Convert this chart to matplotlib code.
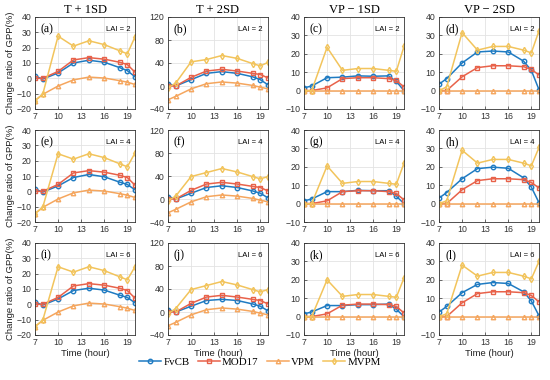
import matplotlib
matplotlib.use("Agg")
import matplotlib.pyplot as plt

hours = [7, 8, 10, 12, 14, 16, 18, 19, 20]
models = ["FvCB", "MOD17", "VPM", "MVPM"]
col_titles = ["T + 1SD", "T + 2SD", "VP \u2212 1SD", "VP \u2212 2SD"]
lai_values = [2, 4, 6]
panel_letters = ["a", "b", "c", "d", "e", "f", "g", "h", "i", "j", "k", "l"]

# ---- data: [row LAI][col scenario] -> series per model
# T + 1SD
t1_fvcb = [[1.5, -0.5, 3.5, 10, 11.8, 10.5, 7, 5, 1],
           [1.5, -0.5, 3.5, 9, 11, 9.5, 6, 4.5, 1],
           [1.5, -0.5, 3.5, 9, 10.5, 9.3, 6, 4.5, 1]]
t1_mod17 = [[0, 0, 4.5, 12, 13.5, 12.5, 10.5, 9, 4],
            [0, 0, 4.5, 12, 13.5, 12.5, 10.5, 9, 4],
            [0, 0, 4.5, 12, 13.5, 12.5, 10.5, 9, 4]]
t1_vpm = [[-14.5, -10.5, -5, -1, 0.8, 0.2, -1.5, -2.5, -4],
          [-14.5, -10.5, -5, -1, 0.8, 0.2, -1.5, -2.5, -4],
          [-14.5, -10.5, -5, -1, 0.8, 0.2, -1.5, -2.5, -4]]
t1_mvpm = [[-14.5, -10.5, 27.5, 21, 24.5, 22, 18, 16, 27],
           [-14.5, -10.5, 24.5, 21, 24.5, 22, 18, 16, 25],
           [-14.5, -10.5, 24.5, 21, 24.5, 22, 18, 16, 24.5]]
# T + 2SD
t2_fvcb = [[4, 0, 11, 22, 25, 22, 16, 11, 2],
           [4, 0, 10, 20, 23, 20, 14, 10, 2],
           [4, 0, 10, 20, 22, 20, 14, 10, 2]]
t2_mod17 = [[0, 0, 15, 26, 29, 26, 22, 20, 14],
            [0, 0, 15, 26, 29, 26, 22, 20, 14],
            [0, 0, 15, 26, 29, 26, 22, 20, 14]]
t2_vpm = [[-24, -18, -5, 4, 7, 5, 1, -2, -5],
          [-24, -18, -5, 4, 7, 5, 1, -2, -5],
          [-24, -18, -5, 4, 7, 5, 1, -2, -5]]
t2_mvpm = [[-3, 5, 42, 46, 53, 48, 39, 35, 41],
           [-3, 5, 39, 46, 53, 47, 39, 35, 39],
           [-3, 6, 39, 46, 53, 47, 39, 35, 39]]
# VP - 1SD
v1_fvcb = [[1.5, 2.5, 7, 7.3, 8, 7.8, 8, 5, 0],
           [1.5, 2.5, 6.5, 6.5, 7.2, 7, 7, 4, 0],
           [1.5, 2.5, 6, 6, 6.5, 6.5, 6.8, 4, 0]]
v1_mod17 = [[0, 0, 1.5, 6.5, 7, 7, 6.5, 5.5, 2],
            [0, 0, 1.5, 6.5, 7, 7, 6.5, 5.5, 2],
            [0, 0, 1.5, 6.2, 6.8, 6.8, 6.5, 5.5, 2]]
v1_vpm = [[0, 0, 0, 0, 0, 0, 0, 0, 0],
          [0, 0, 0, 0, 0, 0, 0, 0, 0],
          [0, 0, 0, 0, 0, 0, 0, 0, 0]]
v1_mvpm = [[0, 0, 23.5, 11, 12, 12, 11, 10.5, 24],
           [0, 0, 20.5, 11, 12, 12, 11, 10.5, 22],
           [0, 0, 20, 11, 12, 12, 11, 10.5, 21]]
# VP - 2SD
v2_fvcb = [[3.5, 6.5, 15, 21, 21.5, 21, 16, 11, 0.5],
           [3, 6, 13.5, 19, 19.8, 19.2, 14, 9, 0.5],
           [2.5, 5.5, 13, 17.5, 18.5, 18, 13.5, 8.5, 0.5]]
v2_mod17 = [[0, 0, 7.5, 12.5, 13.5, 13.5, 13, 11.5, 8.5],
            [0, 0, 7.5, 12.5, 13.5, 13.5, 13, 11.5, 8.5],
            [0, 0, 7.5, 12.5, 13.5, 13.5, 13, 11.5, 8]]
v2_vpm = [[0, 0, 0, 0, 0, 0, 0, 0, 0],
          [0, 0, 0, 0, 0, 0, 0, 0, 0],
          [0, 0, 0, 0, 0, 0, 0, 0, 0]]
v2_mvpm = [[0, 2, 31.5, 22, 24, 24, 22, 20.5, 32.5],
           [0, 1.5, 29, 22, 24, 24, 22, 20.5, 30.5],
           [0, 1.5, 28, 22, 24, 24, 22, 20.5, 30]]

scenario_data = [
    [t1_fvcb, t1_mod17, t1_vpm, t1_mvpm],
    [t2_fvcb, t2_mod17, t2_vpm, t2_mvpm],
    [v1_fvcb, v1_mod17, v1_vpm, v1_mvpm],
    [v2_fvcb, v2_mod17, v2_vpm, v2_mvpm],
]
y_limits = [(-20, 40), (-40, 120), (-10, 40), (-10, 40)]
y_ticks = [[-20, -10, 0, 10, 20, 30, 40], [-40, 0, 40, 80, 120],
           [-10, 0, 10, 20, 30, 40], [-10, 0, 10, 20, 30, 40]]
x_ticks = [7, 10, 13, 16, 19]

colors = ["#1f7bc2", "#e8624a", "#f5a65e", "#f2c45c"]
markers = ["o", "s", "^", "d"]

W, H = 550, 380
fig = plt.figure(figsize=(5.5, 3.8), dpi=100)
sans = "Liberation Sans"
serif = "Liberation Serif"

col_left = [35, 168, 304, 439]
ax_w = 100
row_top = [17, 130, 243]
ax_h = 92

handles = None
for r in range(3):
    for c in range(4):
        ax = fig.add_axes([col_left[c] / W, 1 - (row_top[r] + ax_h) / H, ax_w / W, ax_h / H])
        hs = []
        for m in range(4):
            h, = ax.plot(hours, scenario_data[c][m][r], color=colors[m], marker=markers[m],
                         markersize=3.2, markerfacecolor="none", markeredgewidth=1.0,
                         linewidth=1.1, label=models[m])
            hs.append(h)
        handles = hs
        ax.set_xlim(7, 20)
        ax.set_ylim(*y_limits[c])
        ax.set_xticks(x_ticks)
        ax.set_yticks(y_ticks[c])
        ax.grid(True, color="#e3e3e3", linewidth=0.6)
        ax.set_axisbelow(True)
        ax.tick_params(direction="in", length=2, width=0.5, labelsize=6.3, pad=2.5,
                       colors="#333333", labelcolor="#333333")
        for lab in ax.get_xticklabels() + ax.get_yticklabels():
            lab.set_fontfamily(sans)
        for s in ax.spines.values():
            s.set_linewidth(0.6)
            s.set_color("#333333")
        ax.text(0.06, 0.93, "(" + panel_letters[r * 4 + c] + ")", transform=ax.transAxes,
                ha="left", va="top", fontsize=8.5, family=serif)
        ax.text(0.95, 0.9, "LAI = %d" % lai_values[r], transform=ax.transAxes,
                ha="right", va="top", fontsize=5.5, family=sans)
        if r == 0:
            ax.set_title(col_titles[c], fontsize=9, family=serif, pad=3)
        if c == 0:
            ax.set_ylabel("Change ratio of GPP(%)", fontsize=6.8, family=sans, labelpad=1,
                          color="#222222")
        if r == 2:
            ax.set_xlabel("Time (hour)", fontsize=6.8, family=sans, labelpad=1,
                          color="#222222")

fig.legend(handles, models, loc="center", bbox_to_anchor=(260 / W, 1 - 362 / H),
           ncol=4, frameon=False, prop={"family": serif, "size": 7.8},
           handlelength=2.0, handletextpad=0.2, columnspacing=0.8)

fig.savefig("out.png", dpi=100)
